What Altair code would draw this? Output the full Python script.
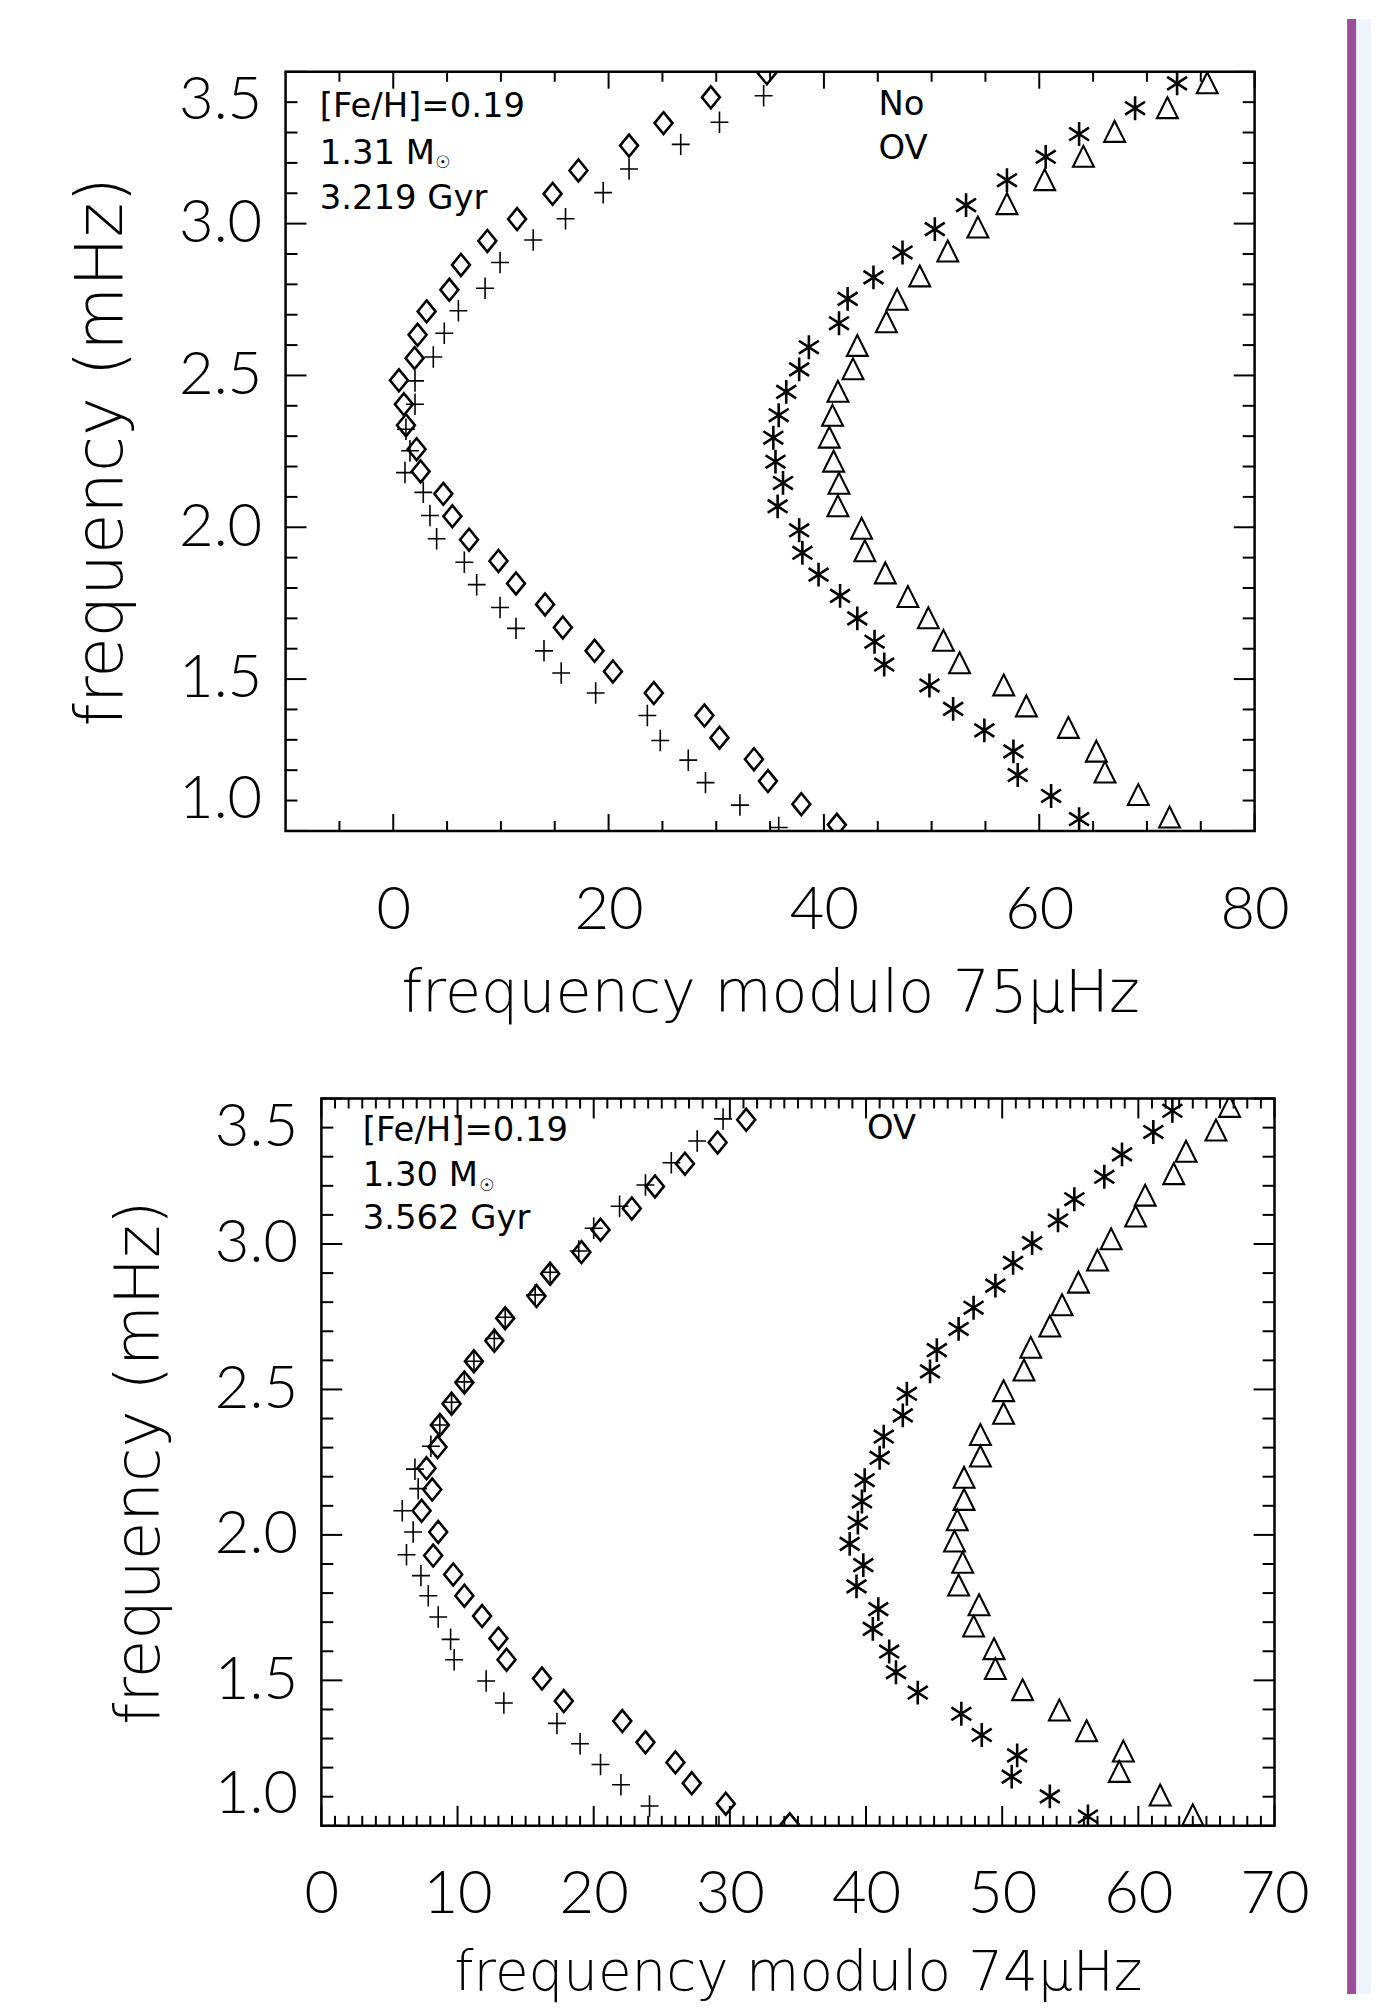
import altair as alt
import pandas as pd

# ---------------- data: top panel (frequency modulo 75 microHz) ----------------
top_diamond_x = [34.7, 29.5, 25.1, 21.9, 17.2, 14.8, 11.5, 8.74, 6.29, 5.21, 3.10, 2.26, 1.98, 0.53, 0.99, 1.18, 2.17, 2.54, 4.65, 5.49, 7.04, 9.77, 11.4, 14.1, 15.75, 18.7, 20.4, 24.2, 28.9, 30.3, 33.5, 34.8, 37.9, 41.2]
top_diamond_y = [3.495, 3.416, 3.331, 3.257, 3.175, 3.098, 3.015, 2.943, 2.864, 2.782, 2.711, 2.634, 2.557, 2.484, 2.405, 2.336, 2.257, 2.184, 2.110, 2.036, 1.959, 1.889, 1.815, 1.746, 1.670, 1.593, 1.525, 1.454, 1.380, 1.307, 1.236, 1.164, 1.088, 1.020]
top_plus_x = [34.4, 30.3, 26.7, 21.9, 19.5, 16.0, 13.0, 9.92, 8.53, 6.05, 4.74, 3.72, 2.02, 2.02, 1.18, 1.55, 1.09, 2.79, 3.41, 4.03, 6.60, 7.75, 9.92, 11.4, 14.0, 15.6, 18.8, 23.6, 24.8, 27.4, 29.0, 32.2, 35.8]
top_plus_y = [3.421, 3.334, 3.261, 3.180, 3.102, 3.016, 2.946, 2.872, 2.787, 2.713, 2.639, 2.561, 2.482, 2.405, 2.323, 2.252, 2.180, 2.115, 2.039, 1.962, 1.885, 1.811, 1.736, 1.667, 1.593, 1.520, 1.454, 1.380, 1.298, 1.233, 1.159, 1.085, 1.011]
top_star_x = [72.8, 68.9, 63.7, 60.6, 57.0, 53.2, 50.3, 47.3, 44.6, 42.2, 41.4, 38.6, 37.7, 36.5, 35.8, 35.3, 35.5, 36.2, 35.7, 37.7, 38.0, 39.5, 41.5, 43.1, 44.7, 45.6, 49.8, 52.0, 54.9, 57.6, 58.0, 61.1, 63.7]
top_star_y = [3.462, 3.380, 3.295, 3.220, 3.143, 3.061, 2.982, 2.905, 2.823, 2.752, 2.672, 2.593, 2.520, 2.446, 2.369, 2.295, 2.216, 2.146, 2.069, 1.990, 1.916, 1.844, 1.774, 1.700, 1.623, 1.548, 1.479, 1.402, 1.331, 1.262, 1.184, 1.115, 1.039]
top_tri_x = [75.6, 71.9, 67.0, 64.1, 60.5, 57.0, 54.3, 51.5, 48.9, 46.8, 45.8, 43.1, 42.7, 41.3, 40.8, 40.5, 40.9, 41.4, 41.3, 43.5, 43.8, 45.7, 47.8, 49.7, 51.1, 52.6, 56.7, 58.8, 62.7, 65.3, 66.1, 69.2, 72.1]
top_tri_y = [3.462, 3.380, 3.302, 3.220, 3.143, 3.064, 2.987, 2.908, 2.826, 2.749, 2.675, 2.597, 2.520, 2.446, 2.367, 2.295, 2.216, 2.143, 2.069, 1.995, 1.921, 1.848, 1.770, 1.700, 1.626, 1.552, 1.479, 1.410, 1.339, 1.261, 1.192, 1.118, 1.044]

# ---------------- data: bottom panel (frequency modulo 74 microHz) ----------------
bot_diamond_x = [31.2, 29.1, 26.7, 24.5, 22.8, 20.5, 19.1, 16.8, 15.8, 13.5, 12.7, 11.2, 10.5, 9.56, 8.70, 8.53, 7.72, 8.14, 7.36, 8.58, 8.21, 9.68, 10.5, 11.8, 13.0, 13.6, 16.2, 17.8, 22.1, 23.8, 26.0, 27.2, 29.7, 34.4]
bot_diamond_y = [3.427, 3.349, 3.276, 3.198, 3.122, 3.049, 2.972, 2.898, 2.821, 2.745, 2.667, 2.597, 2.524, 2.451, 2.378, 2.302, 2.229, 2.156, 2.083, 2.010, 1.929, 1.864, 1.791, 1.721, 1.644, 1.571, 1.506, 1.429, 1.360, 1.287, 1.218, 1.146, 1.076, 1.005]
bot_plus_x = [29.5, 27.6, 25.7, 23.8, 21.9, 20.0, 18.9, 16.8, 15.7, 13.5, 12.7, 11.2, 10.5, 9.56, 8.70, 8.04, 6.87, 7.11, 5.94, 6.74, 6.25, 7.31, 7.85, 8.58, 9.49, 9.75, 12.1, 13.4, 17.3, 19.0, 20.5, 22.0, 24.1, 29.2]
bot_plus_y = [3.430, 3.354, 3.279, 3.203, 3.130, 3.054, 2.976, 2.903, 2.825, 2.748, 2.675, 2.597, 2.526, 2.456, 2.378, 2.305, 2.226, 2.159, 2.083, 2.010, 1.932, 1.860, 1.791, 1.718, 1.641, 1.571, 1.498, 1.422, 1.352, 1.282, 1.211, 1.141, 1.068, 0.998]
bot_star_x = [62.5, 61.1, 58.8, 57.5, 55.3, 54.1, 52.2, 50.8, 49.5, 47.9, 46.8, 45.2, 44.7, 43.0, 42.7, 41.3, 41.0, 39.9, 39.7, 39.4, 38.8, 39.8, 39.3, 40.9, 40.5, 41.7, 42.2, 43.8, 47.0, 48.5, 51.1, 50.7, 53.5, 56.3]
bot_star_y = [3.458, 3.385, 3.308, 3.231, 3.154, 3.081, 3.003, 2.935, 2.857, 2.781, 2.708, 2.635, 2.562, 2.485, 2.411, 2.338, 2.265, 2.188, 2.115, 2.042, 1.969, 1.896, 1.823, 1.745, 1.677, 1.599, 1.528, 1.458, 1.385, 1.312, 1.242, 1.169, 1.101, 1.032]
bot_tri_x = [66.7, 65.7, 63.5, 62.6, 60.5, 59.8, 58.0, 57.0, 55.6, 54.4, 53.5, 52.1, 51.6, 50.1, 50.1, 48.4, 48.4, 47.2, 47.2, 46.7, 46.5, 47.1, 46.8, 48.3, 47.9, 49.4, 49.5, 51.5, 54.2, 56.2, 58.9, 58.6, 61.6, 64.0]
bot_tri_y = [3.471, 3.390, 3.317, 3.240, 3.166, 3.094, 3.016, 2.943, 2.867, 2.789, 2.716, 2.643, 2.565, 2.494, 2.416, 2.343, 2.269, 2.196, 2.120, 2.050, 1.977, 1.904, 1.826, 1.758, 1.685, 1.607, 1.539, 1.466, 1.396, 1.325, 1.255, 1.185, 1.104, 1.036]

# ---------------- axis ticks / labels ----------------
top_x_major = [0, 20, 40, 60, 80]
top_x_minor = [-5, 5, 10, 15, 25, 30, 35, 45, 50, 55, 65, 70, 75]
bot_x_major = [0, 10, 20, 30, 40, 50, 60, 70]
bot_x_minor = [v for v in range(1, 70) if v % 10 != 0]
y_major = [1.0, 1.5, 2.0, 2.5, 3.0, 3.5]
y_minor = [1.1, 1.2, 1.3, 1.4, 1.6, 1.7, 1.8, 1.9, 2.1, 2.2, 2.3, 2.4, 2.6, 2.7, 2.8, 2.9, 3.1, 3.2, 3.3, 3.4]

# ---------------- annotations ----------------
top_note_text = ["[Fe/H]=0.19", "1.31 M", "3.219 Gyr", "No", "OV"]
top_note_x = [-6.83, -6.83, -6.83, 45.06, 45.06]
top_note_y = [3.384, 3.228, 3.081, 3.389, 3.244]
top_sun_x = [3.9]
top_sun_y = [3.199]
bot_note_text = ["[Fe/H]=0.19", "1.30 M", "3.562 Gyr", "OV"]
bot_note_x = [3.04, 3.04, 3.04, 40.07]
bot_note_y = [3.387, 3.233, 3.086, 3.394]
bot_sun_x = [11.6]
bot_sun_y = [3.199]

TICK_FONT = "Lato"
TITLE_FONT = "DejaVu Sans"
TEXT_FONT = "DejaVu Sans"

SYMBOLS = [
    ("diamond", "M0,-1.1L0.9,0L0,1.1L-0.9,0Z", 400, 2.6),
    ("plus", "M-1,0H1M0,-1.2V1.2", 324, 1.6),
    ("star", "M0,-1.2V1.2M-1,-0.65L1,0.65M-1,0.65L1,-0.65", 400, 2.6),
    ("tri", "M0,-1.05L1,0.95L-1,0.95Z", 441, 2.1),
]


def long_df(series):
    rows = []
    for name, xs, ys in series:
        assert len(xs) == len(ys), name
        for x, y in zip(xs, ys):
            rows.append({"series": name, "x": x, "y": y})
    return pd.DataFrame(rows)


def panel(df, notes, sun, xdom, w, h, xmaj, xmin, xtitle, ytitle,
          xlabpad, xtitlepad, xtitlesize, ytitlesize, xtick, ytick):
    xs = alt.Scale(domain=xdom, nice=False, zero=False)
    ys = alt.Scale(domain=[1.0, 3.5], nice=False, zero=False)
    base = alt.Chart(df)
    layers = []
    for name, path, size, sw in SYMBOLS:
        layers.append(
            base.transform_filter(alt.datum.series == name)
            .mark_point(shape=path, size=size, filled=False, strokeWidth=sw,
                        color="black", opacity=1, clip=True)
            .encode(x=alt.X("x:Q", scale=xs, axis=None),
                    y=alt.Y("y:Q", scale=ys, axis=None))
        )
    # labelled axes (ticks are drawn separately, pointing inwards)
    layers.append(
        base.mark_point(opacity=0, clip=True).encode(
            x=alt.X("x:Q", scale=xs, axis=alt.Axis(
                orient="bottom", values=xmaj, format="d", ticks=False, tickSize=0,
                domain=False, grid=False, labelFont=TICK_FONT, labelFontSize=60,
                labelFontWeight=300, labelColor="black", labelPadding=xlabpad,
                labelFlush=False, labelOverlap=False, title=xtitle,
                titleFont=TITLE_FONT, titleFontSize=xtitlesize, titleFontWeight=200,
                titleColor="black", titlePadding=xtitlepad)),
            y=alt.Y("y:Q", scale=ys, axis=alt.Axis(
                orient="left", values=y_major, format=".1f", ticks=False, tickSize=0,
                domain=False, grid=False, labelFont=TICK_FONT, labelFontSize=60,
                labelFontWeight=300, labelColor="black", labelPadding=24,
                labelFlush=True, labelOverlap=False, title=ytitle,
                titleFont=TITLE_FONT, titleFontSize=ytitlesize, titleFontWeight=200,
                titleColor="black", titlePadding=43)),
        )
    )

    # inward tick marks on all four sides, positioned through the scales
    def xticks(values, length, edge):
        d = pd.DataFrame({"v": values})
        y0 = h if edge == "bottom" else 0
        y1 = h - length if edge == "bottom" else length
        return alt.Chart(d).mark_rule(color="black", strokeWidth=2).encode(
            x=alt.X("v:Q", scale=xs, axis=None),
            y=alt.value(y0), y2=alt.value(y1))

    def yticks(values, length, edge):
        d = pd.DataFrame({"v": values})
        x0 = 0 if edge == "left" else w
        x1 = length if edge == "left" else w - length
        return alt.Chart(d).mark_rule(color="black", strokeWidth=2).encode(
            y=alt.Y("v:Q", scale=ys, axis=None),
            x=alt.value(x0), x2=alt.value(x1))

    for edge in ("bottom", "top"):
        layers.append(xticks(xmaj, xtick[0], edge))
        layers.append(xticks(xmin, xtick[1], edge))
    for edge in ("left", "right"):
        layers.append(yticks(y_major, ytick[0], edge))
        layers.append(yticks(y_minor, ytick[1], edge))

    layers.append(
        alt.Chart(notes).mark_text(align="left", baseline="middle", font=TEXT_FONT,
                                   fontSize=34, color="black")
        .encode(x=alt.X("x:Q", scale=xs, axis=None),
                y=alt.Y("y:Q", scale=ys, axis=None), text="t:N")
    )
    layers.append(
        alt.Chart(sun).mark_text(align="left", baseline="middle", font=TEXT_FONT,
                                 fontSize=17, color="black")
        .encode(x=alt.X("x:Q", scale=xs, axis=None),
                y=alt.Y("y:Q", scale=ys, axis=None), text=alt.value("\u2609"))
    )
    return alt.layer(*layers).resolve_axis(x="independent", y="independent") \
        .properties(width=w, height=h)


def spacer(w, h):
    return alt.Chart(pd.DataFrame({"a": [0]})).mark_rule(opacity=0).encode(
        x=alt.value(0), y=alt.value(0), y2=alt.value(h)
    ).properties(width=w, height=h, view=alt.ViewBackground(stroke="transparent"))


top_df = long_df([("diamond", top_diamond_x, top_diamond_y), ("plus", top_plus_x, top_plus_y),
                  ("star", top_star_x, top_star_y), ("tri", top_tri_x, top_tri_y)])
bot_df = long_df([("diamond", bot_diamond_x, bot_diamond_y), ("plus", bot_plus_x, bot_plus_y),
                  ("star", bot_star_x, bot_star_y), ("tri", bot_tri_x, bot_tri_y)])
top_notes = pd.DataFrame({"x": top_note_x, "y": top_note_y, "t": top_note_text})
bot_notes = pd.DataFrame({"x": bot_note_x, "y": bot_note_y, "t": bot_note_text})
top_sun = pd.DataFrame({"x": top_sun_x, "y": top_sun_y})
bot_sun = pd.DataFrame({"x": bot_sun_x, "y": bot_sun_y})

top = panel(top_df, top_notes, top_sun, [-10, 80], 974, 763, top_x_major, top_x_minor,
            "frequency  modulo  75\u03bcHz", "frequency  (mHz)", 51, 25, 59, 66,
            (17, 10), (21, 12))
bottom = panel(bot_df, bot_notes, bot_sun, [0, 70], 958, 731, bot_x_major, bot_x_minor,
               "frequency  modulo  74\u03bcHz", "frequency  (mHz)", 40, 23, 55, 63,
               (20, 10), (21, 12))

PURPLE = "#9A4E9A"
LIGHT = "#EEF4FC"
BW, BH = 24, 1985
one = pd.DataFrame({"a": [0]})
border = alt.layer(
    alt.Chart(one).mark_rect(color=LIGHT).encode(
        x=alt.value(0), x2=alt.value(BW), y=alt.value(0), y2=alt.value(BH)),
    alt.Chart(one).mark_rule(color=PURPLE, strokeWidth=9).encode(
        x=alt.value(4.5), y=alt.value(0), y2=alt.value(BH)),
).properties(width=BW, height=BH, view=alt.ViewBackground(stroke="transparent"))

# every row is a [spacer | panel] pair so that all rows share the same origin;
# the spacer width sets each panel's horizontal offset
left_col = alt.vconcat(
    spacer(1, 48),
    alt.hconcat(spacer(1, 1), top, spacing=0),
    spacer(1, 66),
    alt.hconcat(spacer(41, 1), bottom, spacing=0),
    spacing=0,
)

chart = alt.hconcat(left_col, border, spacing=34).properties(
    padding={"left": 55, "top": 0, "right": 0, "bottom": 0},
    background="white",
).configure_view(stroke="black", strokeWidth=2.5)

chart.save("out.html", embed_options={"renderer": "svg", "actions": False})
